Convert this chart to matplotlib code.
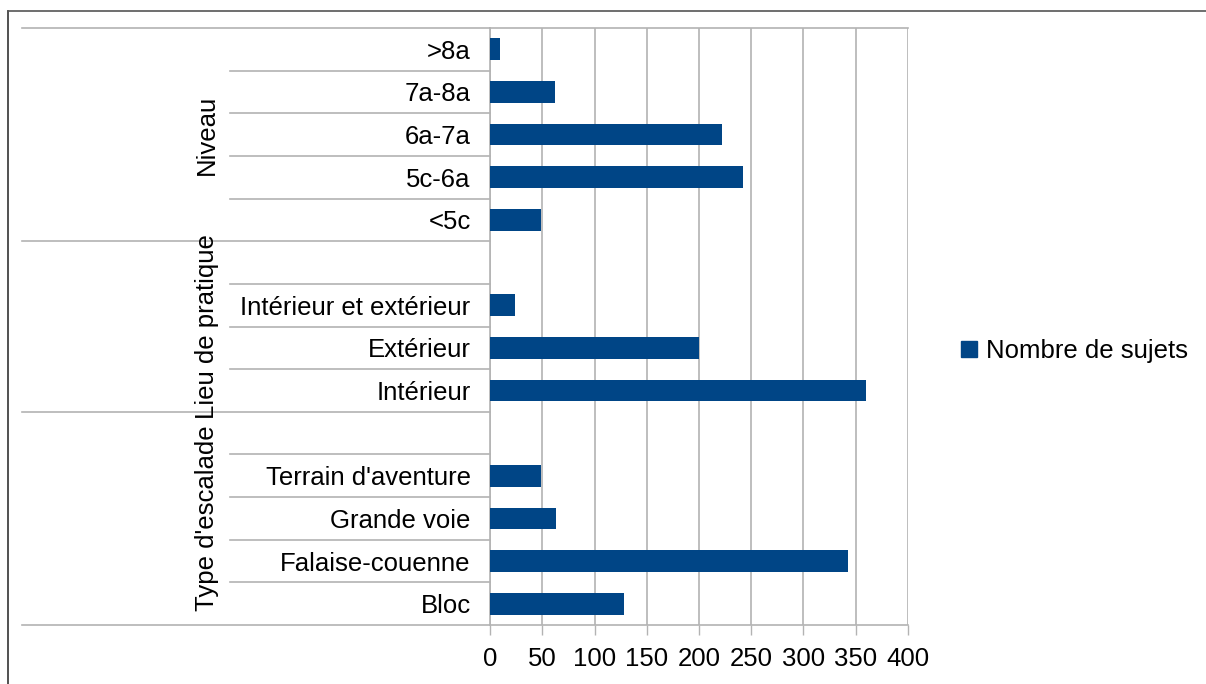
import matplotlib.pyplot as plt
from matplotlib.lines import Line2D
from matplotlib.patches import Patch

plt.rcParams['font.family'] = ['Liberation Sans', 'DejaVu Sans']

# groups, bottom to top as on the chart
type_labels = ['Bloc', 'Falaise-couenne', 'Grande voie', "Terrain d'aventure"]
type_values = [128, 343, 63, 49]
lieu_labels = ['Intérieur', 'Extérieur', 'Intérieur et extérieur']
lieu_values = [360, 200, 24]
niveau_labels = ['<5c', '5c-6a', '6a-7a', '7a-8a', '>8a']
niveau_values = [49, 242, 222, 62, 10]
group_names = ["Type d'escalade", 'Lieu de pratique', 'Niveau']
series_name = 'Nombre de sujets'

groups = [(type_labels, type_values), (lieu_labels, lieu_values), (niveau_labels, niveau_values)]

# flatten, with an empty row after every group but the last one
labels, values, bounds = [], [], [0]
for gi, (lab, val) in enumerate(groups):
    labels += lab
    values += val
    if gi < len(groups) - 1:
        labels.append('')
        values.append(0)
    bounds.append(len(labels))

bar_color = '#004586'
grid_color = '#b3b3b3'
fs = 18.5

fig = plt.figure(figsize=(12.06, 6.84), dpi=100)
ax = fig.add_axes([490 / 1206, 1 - 625 / 684, 418 / 1206, 597 / 684])

y = list(range(len(labels)))
ax.barh(y, values, height=0.51, color=bar_color, zorder=3)

ax.set_xlim(0, 400)
ax.set_ylim(-0.5, len(labels) - 0.5)
ax.set_xticks(range(0, 401, 50))
ax.set_yticks(y)
ax.set_yticklabels(labels, fontsize=fs)
ax.tick_params(axis='y', length=0, pad=14)
ax.tick_params(axis='x', length=7, width=1, color=grid_color, labelsize=fs, pad=9)
ax.grid(axis='x', color=grid_color, linewidth=1.2, zorder=0)
for s in ['right']:
    ax.spines[s].set_visible(False)
for s in ['left', 'bottom', 'top']:
    ax.spines[s].set_color(grid_color)
    ax.spines[s].set_linewidth(1.2)

# category separators and group separators in the label area
tr = ax.get_yaxis_transform()
for k in range(len(labels) + 1):
    yy = k - 0.5
    if k in bounds:
        x0 = (22 - 490) / 418
    else:
        x0 = (230 - 490) / 418
    ax.plot([x0, 0], [yy, yy], color=grid_color, lw=1.2, transform=tr, clip_on=False)

# group names, rotated
for gi, name in enumerate(group_names):
    mid = (bounds[gi] + bounds[gi + 1]) / 2 - 0.5
    ax.text((207 - 490) / 418, mid, name, rotation=90, ha='center', va='center',
            fontsize=fs, transform=tr, clip_on=False)

# legend
handle = Patch(facecolor=bar_color, edgecolor=bar_color)
fig.legend([handle], [series_name], loc='center left',
           bbox_to_anchor=(938 / 1206, 1 - 351 / 684), frameon=False, fontsize=fs,
           handlelength=0.6, handleheight=0.6, handletextpad=0.35)

# page frame
fig.add_artist(Line2D([8 / 1206, 8 / 1206], [0, 1 - 11 / 684], color='#333333', lw=1.2))
fig.add_artist(Line2D([8 / 1206, 1], [1 - 11 / 684, 1 - 11 / 684], color='#555555', lw=1.2))

fig.savefig('out.png', dpi=100)
